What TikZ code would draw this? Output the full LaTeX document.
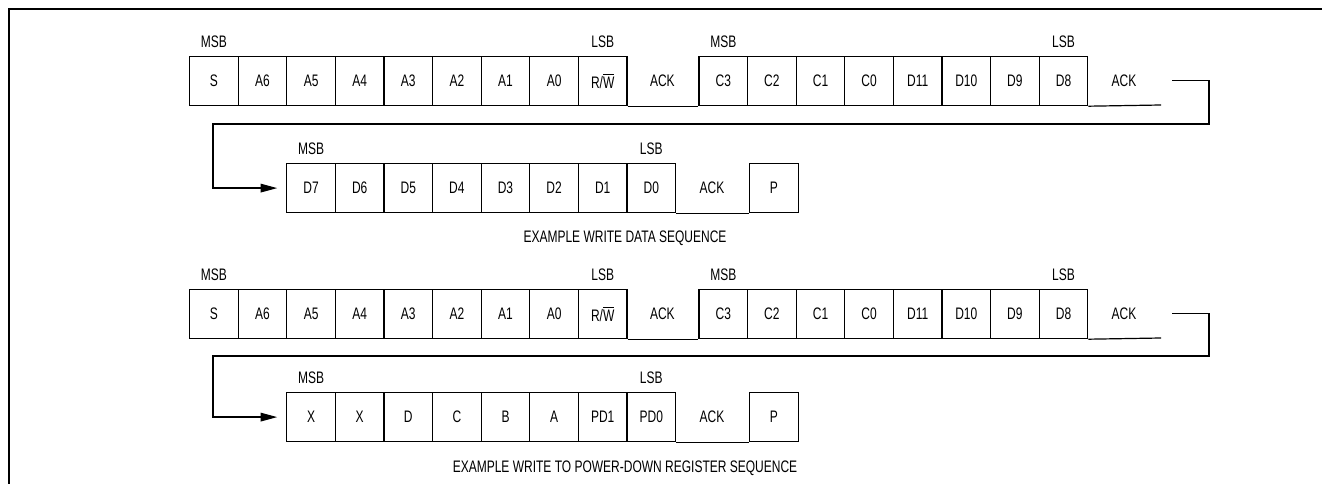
\documentclass[tikz,border=0pt]{standalone}
\usepackage{fontspec}
\setmainfont{Liberation Sans}[FakeStretch=0.72]
\usetikzlibrary{arrows.meta}
\begin{document}
\begin{tikzpicture}[x=0.75pt,y=-0.75pt,
  txt/.style={font=\fontsize{12.5}{14}\selectfont},
  bit/.style={txt, draw, line width=0.9pt, minimum width=36.45pt, minimum height=36.75pt, inner sep=0pt, anchor=north west},
  lbl/.style={txt, inner sep=0pt},
  wire/.style={line width=0.9pt},
  tip/.style={-{Triangle[length=12.5pt,width=6.5pt]}, shorten >=6.75pt},
  frame/.style={line width=1.8pt}]
\useasboundingbox (0,0) rectangle (1322,484);
\draw[frame] (9,484) -- (9,9) -- (1322,9);

% ---------- Section 1 ----------
\foreach \t [count=\i from 0] in {S,A6,A5,A4,A3,A2,A1,A0,{R/$\overline{\hbox{W}}$}}
  \node[bit] (ab\i) at (189+\i*48.6,56) {\t};
\foreach \t [count=\i from 0] in {C3,C2,C1,C0,D11,D10,D9,D8}
  \node[bit] (ac\i) at (698.4+\i*48.6,56) {\t};
\node[lbl] (aack1) at (662.4,80.5) {ACK};
\node[lbl] (aack2) at (1124,80.5) {ACK};
\draw[wire] (ab8.south east) -- (ac0.south west);
\coordinate (aend) at (1161,105);
\draw[wire] (ac7.south east) -- (aend);
\node[lbl] (amsb1) at ([yshift=10.5pt]ab0.north) {MSB};
\node[lbl] (alsb1) at ([yshift=10.5pt]ab8.north) {LSB};
\node[lbl] (amsb2) at ([yshift=10.5pt]ac0.north) {MSB};
\node[lbl] (alsb2) at ([yshift=10.5pt]ac7.north) {LSB};

\foreach \t [count=\i from 0] in {D7,D6,D5,D4,D3,D2,D1,D0}
  \node[bit] (ad\i) at (286.2+\i*48.6,163) {\t};
\node[lbl] (aack3) at (712,187.5) {ACK};
\node[bit] (ap) at (749,163) {P};
\draw[wire] (ad7.south east) -- (ap.south west);
\node[lbl] (amsb3) at ([yshift=10.5pt]ad0.north) {MSB};
\node[lbl] (alsb3) at ([yshift=10.5pt]ad7.north) {LSB};
\coordinate (astart) at (1172,80.5);
\draw[wire,tip] (astart) -- (1209,80.5) |- (213,124) |- (ad0.west);
\node[lbl] (acap) at (625,238) {EXAMPLE WRITE DATA SEQUENCE};

% ---------- Section 2 ----------
\foreach \t [count=\i from 0] in {S,A6,A5,A4,A3,A2,A1,A0,{R/$\overline{\hbox{W}}$}}
  \node[bit] (bb\i) at (189+\i*48.6,289) {\t};
\foreach \t [count=\i from 0] in {C3,C2,C1,C0,D11,D10,D9,D8}
  \node[bit] (bc\i) at (698.4+\i*48.6,289) {\t};
\node[lbl] (back1) at (662.4,313.5) {ACK};
\node[lbl] (back2) at (1124,313.5) {ACK};
\draw[wire] (bb8.south east) -- (bc0.south west);
\coordinate (bend) at (1161,338);
\draw[wire] (bc7.south east) -- (bend);
\node[lbl] (bmsb1) at ([yshift=10.5pt]bb0.north) {MSB};
\node[lbl] (blsb1) at ([yshift=10.5pt]bb8.north) {LSB};
\node[lbl] (bmsb2) at ([yshift=10.5pt]bc0.north) {MSB};
\node[lbl] (blsb2) at ([yshift=10.5pt]bc7.north) {LSB};

\foreach \t [count=\i from 0] in {X,X,D,C,B,A,PD1,PD0}
  \node[bit] (bd\i) at (286.2+\i*48.6,392) {\t};
\node[lbl] (back3) at (712,416.5) {ACK};
\node[bit] (bp) at (749,392) {P};
\draw[wire] (bd7.south east) -- (bp.south west);
\node[lbl] (bmsb3) at ([yshift=10.5pt]bd0.north) {MSB};
\node[lbl] (blsb3) at ([yshift=10.5pt]bd7.north) {LSB};
\coordinate (bstart) at (1172,313.5);
\draw[wire,tip] (bstart) -- (1209,313.5) |- (213,356) |- (bd0.west);
\node[lbl] (bcap) at (625,468) {EXAMPLE WRITE TO POWER-DOWN REGISTER SEQUENCE};
\end{tikzpicture}
\end{document}
